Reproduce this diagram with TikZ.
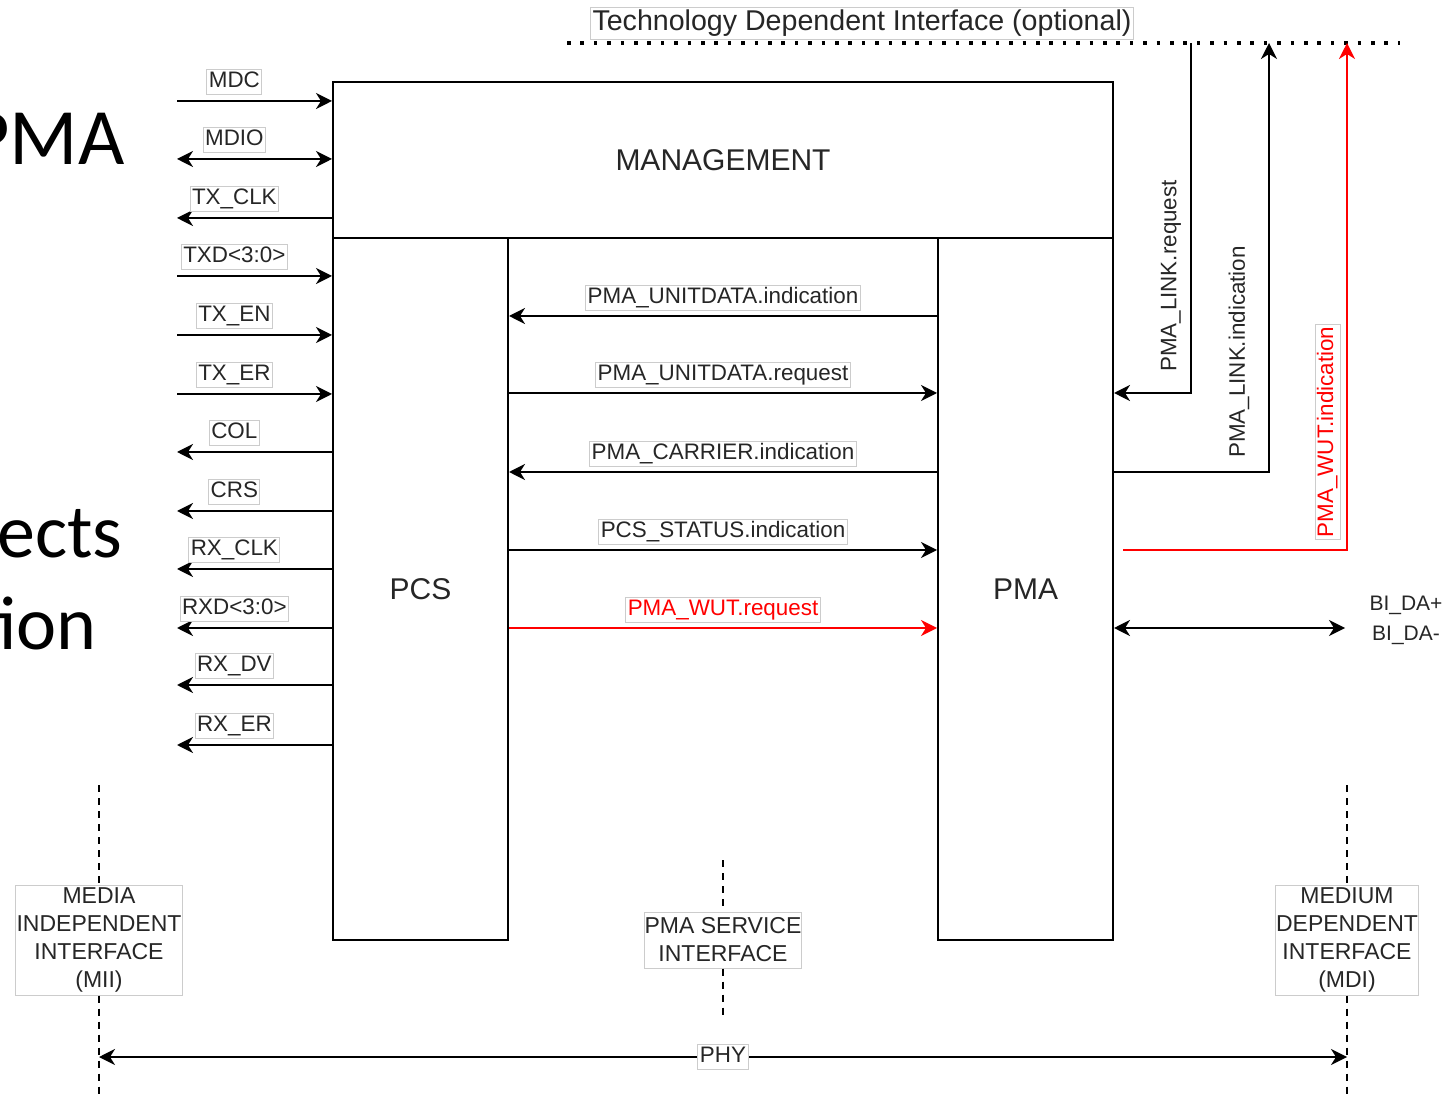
\documentclass[tikz,border=0pt]{standalone}
\usepackage{fontspec}
\setmainfont{Liberation Sans}
\newfontfamily\slidefont{Carlito}
\usetikzlibrary{arrows.meta}

\tikzstyle{block} = [rectangle, draw, line width=1pt, fill=white, 
    text=black!85, font=\fontsize{15}{18}\selectfont]
\tikzstyle{description}=[rectangle, draw=black!20, line width=0.5pt, fill=white, inner sep=1pt,
    text=black!85, text height=8pt, text depth=2.5pt, font=\fontsize{11.2}{13}\selectfont]
\tikzstyle{vlabel}=[rotate=90, inner sep=1pt, text=black!85, font=\fontsize{11.2}{13}\selectfont]
\tikzstyle{line} = [draw, line width=1pt, -{Stealth[length=8pt, width=8pt, inset=2.5pt]}]
\tikzstyle{both} = [line, {Stealth[length=8pt, width=8pt, inset=2.5pt]}-{Stealth[length=8pt, width=8pt, inset=2.5pt]}]
\tikzstyle{iface} = [draw, line width=0.8pt, dash pattern=on 3.5pt off 3pt]
\tikzstyle{ifbox} = [rectangle, draw=black!20, line width=0.5pt, fill=white, align=center,
    inner sep=0pt, text=black!85, font=\fontsize{11.5}{14}\selectfont]
\tikzstyle{slide} = [anchor=base east, inner sep=0pt, font=\slidefont\fontsize{40}{40}\selectfont]

\begin{document}
\begin{tikzpicture}[x=0.5pt, y=-0.5pt]
\clip (0,0) rectangle (1456,1095);

%Slide behind
\node (SlidePMA) [slide] at (125,165) {PMA};
\node (SlideEcts) [slide, font=\slidefont\fontsize{38}{38}\selectfont] at (123,558) {ects};
\node (SlideTion) [slide, font=\slidefont\fontsize{38}{38}\selectfont] at (97,650) {tion};

\node (Management) [block, minimum width=390pt, minimum height=78pt] at (723,160) {MANAGEMENT};
\node (PCS) [block, minimum width=87.5pt, minimum height=351pt] at (420.5,589) {PCS};
\node (PMA) [block, minimum width=87.5pt, minimum height=351pt] at (1025.5,589) {PMA};

%Left
\coordinate (MDC) at (177,101);
\coordinate (MDIO) at (177,159);
\coordinate (TXCLK) at (177,218);
\coordinate (TXD) at (177,276);
\coordinate (TXEN) at (177,335);
\coordinate (TXER) at (177,394);
\coordinate (COL) at (177,452);
\coordinate (CRS) at (177,511);
\coordinate (RXCLK) at (177,569);
\coordinate (RXD) at (177,628);
\coordinate (RXDV) at (177,685);
\coordinate (RXER) at (177,745);

\path [line](MDC)--node[description, above=3pt, pos=0.37](MDCLabel){MDC}(MDC -| Management.west);
\path [both](MDIO)--node[description, above=3pt, pos=0.37](MDIOLabel){MDIO}(MDIO -| Management.west);
\path [line](TXCLK -| Management.west)--node[description, above=3pt, pos=0.63](TXCLKLabel){TX\_CLK}(TXCLK);
\path [line](TXD)--node[description, above=3pt, pos=0.37](TXDLabel){TXD<3:0>}(TXD -| PCS.west);
\path [line](TXEN)--node[description, above=3pt, pos=0.37](TXENLabel){TX\_EN}(TXEN -| PCS.west);
\path [line](TXER)--node[description, above=3pt, pos=0.37](TXERLabel){TX\_ER}(TXER -| PCS.west);
\path [line](COL -| PCS.west)--node[description, above=3pt, pos=0.63](COLLabel){COL}(COL);
\path [line](CRS -| PCS.west)--node[description, above=3pt, pos=0.63](CRSLabel){CRS}(CRS);
\path [line](RXCLK -| PCS.west)--node[description, above=3pt, pos=0.63](RXCLKLabel){RX\_CLK}(RXCLK);
\path [line](RXD -| PCS.west)--node[description, above=3pt, pos=0.63](RXDLabel){RXD<3:0>}(RXD);
\path [line](RXDV -| PCS.west)--node[description, above=3pt, pos=0.63](RXDVLabel){RX\_DV}(RXDV);
\path [line](RXER -| PCS.west)--node[description, above=3pt, pos=0.63](RXERLabel){RX\_ER}(RXER);

%PMA service interface
\path [line](PMA.west |- 0,316)--node[description, above=2.5pt](UnitInd){PMA\_UNITDATA.indication}(PCS.east |- 0,316);
\path [line](PCS.east |- 0,393)--node[description, above=2.5pt](UnitReq){PMA\_UNITDATA.request}(PMA.west |- 0,393);
\path [line](PMA.west |- 0,472)--node[description, above=2.5pt](CarrierInd){PMA\_CARRIER.indication}(PCS.east |- 0,472);
\path [line](PCS.east |- 0,550)--node[description, above=2.5pt](StatusInd){PCS\_STATUS.indication}(PMA.west |- 0,550);
\path [line, red](PCS.east |- 0,628)--node[description, above=2.5pt, text=red](WutReq){PMA\_WUT.request}(PMA.west |- 0,628);

%Technology dependent interface
\coordinate (TDILeft) at (567,43);
\coordinate (TDIRight) at (1400,43);
\path [draw, line width=1.8pt, dash pattern=on 1.8pt off 4.9pt](TDILeft)--(TDIRight);
\node (TDI) [description, font=\fontsize{14.3}{16}\selectfont, text height=10.5pt, text depth=3.5pt] at (862,24)
    {Technology Dependent Interface (optional)};

\coordinate (LinkReq) at (1191,43);
\coordinate (LinkInd) at (1269,43);
\coordinate (WutStart) at (1123,550);
\coordinate (WutInd) at (1347,43);
\path [line](LinkReq)|-(PMA.east |- 0,393);
\path [line](PMA.east |- 0,472)-|(LinkInd);
\path [line, red](WutStart)-|(WutInd);
\node (LinkReqLabel) [vlabel] at (1171,276) {PMA\_LINK.request};
\node (LinkIndLabel) [vlabel] at (1239,352) {PMA\_LINK.indication};
\node (WutIndLabel) [description, rotate=90, text=red] at (1327.5,432) {PMA\_WUT.indication};

%Medium
\coordinate (BiDaEnd) at (1345,628);
\path [both](PMA.east |- 0,628)--(BiDaEnd);
\node (BiDa) [align=center, text=black!85, font=\fontsize{10.5}{15}\selectfont] at (1406,620) {BI\_DA+\\BI\_DA-};

%Interfaces
\node (MII) [ifbox, minimum width=83.5pt, minimum height=55pt] at (99,940) {MEDIA\\INDEPENDENT\\INTERFACE\\(MII)};
\node (PSI) [ifbox, minimum width=78.5pt, minimum height=28pt] at (723,940) {PMA SERVICE\\INTERFACE};
\node (MDI) [ifbox, minimum width=71.5pt, minimum height=55pt] at (1347,940) {MEDIUM\\DEPENDENT\\INTERFACE\\(MDI)};

\coordinate (MIITop) at (99,785);
\coordinate (MIIBottom) at (99,1095);
\coordinate (PSITop) at (723,860);
\coordinate (PSIBottom) at (723,1020);
\coordinate (MDITop) at (1347,785);
\coordinate (MDIBottom) at (1347,1095);
\path [iface](MIITop)--(MII);
\path [iface](MII)--(MIIBottom);
\path [iface](PSITop)--(PSI);
\path [iface](PSI)--(PSIBottom);
\path [iface](MDITop)--(MDI);
\path [iface](MDI)--(MDIBottom);

%PHY
\coordinate (PHYLeft) at (99,1057);
\coordinate (PHYRight) at (1347,1057);
\path [both](PHYLeft)--node[description](PHY){PHY}(PHYRight);

\end{tikzpicture}
\end{document}
